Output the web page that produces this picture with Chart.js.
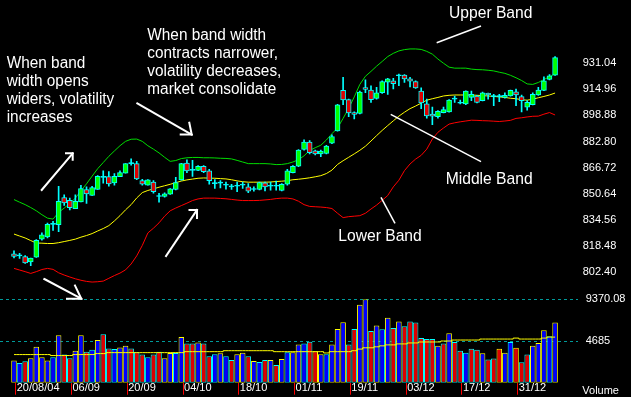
<!DOCTYPE html>
<html><head><meta charset="utf-8">
<script src="https://cdn.jsdelivr.net/npm/chart.js@4/dist/chart.umd.min.js"></script>
<style>html,body{margin:0;padding:0;background:#000;overflow:hidden}#c{display:block;background:#000}</style>
</head><body>
<canvas id="c" width="631" height="397"></canvas>
<script>
// ---------- data ----------
const openP = [813.7,812.5,812.1,808.8,811.7,822.7,824.1,831.9,831.7,848.4,
 846.6,841.5,845.6,853.3,849.6,853.3,860.8,861.2,857.4,861.2,
 863.3,869.2,869.2,858.8,855.9,857.8,849.0,849.0,850.4,853.3,
 859.2,869.6,865.1,865.1,867.6,864.7,856.9,857.2,855.9,854.9,
 855.3,855.9,854.9,853.3,853.3,857.4,855.3,855.3,852.7,856.5,
 863.7,867.6,877.9,882.4,877.1,875.1,875.5,881.8,889.3,914.2,
 908.5,900.6,900.0,915.9,914.4,909.3,912.8,919.3,920.1,923.2,
 923.6,921.3,919.7,913.8,905.9,899.7,898.1,900.6,901.0,908.9,
 906.3,905.9,909.9,910.8,907.9,912.4,910.4,910.4,909.9,910.8,
 913.4,910.4,903.9,905.5,911.4,914.2,921.0,923.6];
const highP = [815.6,814.1,812.7,811.1,822.5,826.6,832.7,833.7,855.3,850.0,
 848.0,850.0,855.9,854.9,855.3,861.8,864.7,864.3,863.1,864.7,
 869.2,872.1,870.6,859.6,859.4,858.8,851.0,851.2,853.9,860.8,
 869.4,871.6,871.2,868.0,868.0,865.7,859.4,858.8,857.8,856.5,
 857.8,857.8,856.9,854.9,857.8,857.8,857.8,858.4,856.9,865.7,
 868.0,877.9,883.8,883.4,877.5,877.5,880.4,886.9,905.6,922.2,
 908.9,901.0,913.8,920.7,917.1,916.1,920.1,921.6,921.6,924.2,
 924.0,922.2,920.1,915.8,908.9,904.0,901.8,904.0,908.5,910.8,
 908.3,914.0,913.8,911.2,913.2,912.6,911.8,911.8,912.8,914.4,
 915.1,911.4,907.9,912.8,916.1,922.6,924.0,935.0];
const lowP = [811.3,811.0,807.8,806.4,811.5,822.1,823.5,828.2,827.4,843.5,
 840.8,841.5,845.6,844.7,849.6,853.3,857.2,855.3,855.9,861.2,
 863.3,868.3,859.4,855.9,855.9,851.0,845.5,848.6,850.2,853.0,
 859.0,863.7,861.4,864.9,863.7,856.5,853.9,854.3,853.5,853.3,
 851.9,853.9,851.4,852.3,853.1,852.5,852.9,852.9,852.5,855.9,
 863.5,867.4,877.5,875.1,874.5,873.5,875.1,881.4,889.1,905.4,
 898.1,896.7,899.8,912.8,906.9,908.9,912.4,911.8,915.2,917.1,
 919.1,916.3,915.5,903.0,897.1,893.2,897.1,900.4,900.8,906.9,
 905.9,905.5,907.9,906.5,907.7,908.9,904.9,907.3,909.5,910.6,
 904.9,901.0,902.0,905.3,911.2,914.0,920.7,923.4];
const closeP = [812.1,812.5,808.2,811.1,822.1,825.4,831.9,831.9,846.1,845.1,
 842.1,846.1,853.9,850.6,854.5,861.4,860.8,856.8,861.4,863.7,
 869.2,869.2,859.8,856.5,859.2,851.9,849.0,850.6,853.7,857.6,
 869.2,864.7,865.1,867.6,864.3,858.8,856.9,857.2,855.9,854.9,
 855.3,855.9,852.3,853.3,857.6,854.9,855.3,855.3,856.5,864.7,
 867.6,877.5,882.4,875.9,875.1,876.9,880.0,885.9,905.4,908.3,
 900.4,899.5,913.2,914.8,908.5,912.8,919.7,921.3,918.3,923.2,
 921.3,919.9,915.8,906.5,898.5,898.3,901.4,902.4,908.3,908.9,
 906.3,913.8,911.8,906.9,912.8,911.6,910.4,910.4,911.2,914.2,
 911.4,907.9,906.9,911.8,914.4,920.1,923.2,934.4];
const upperBand = [847.1,845.5,844.0,842.2,840.2,837.8,835.7,835.1,839.2,841.9,
 844.7,848.0,852.5,856.8,861.5,866.1,869.9,873.7,877.0,880.2,
 882.9,884.2,884.3,882.9,880.2,878.1,875.8,873.1,870.6,871.1,
 872.3,872.8,873.0,873.0,872.8,872.8,872.7,872.5,872.4,872.1,
 871.2,870.2,869.2,869.2,869.2,869.2,869.0,868.6,868.7,869.2,
 870.2,871.6,874.0,877.3,879.0,880.5,883.7,887.6,891.1,897.0,
 903.2,910.2,917.9,922.9,925.9,929.1,932.0,935.0,937.0,938.5,
 939.3,939.7,939.7,939.4,938.2,936.5,933.5,930.9,928.5,927.9,
 927.9,927.9,927.3,927.0,926.9,926.6,926.2,925.4,924.7,923.5,
 922.0,920.3,918.2,917.9,919.1,920.9,922.6,924.4];
const middleBand = [825.9,824.7,823.5,821.9,820.4,820.3,820.1,820.1,820.6,821.3,
 822.0,822.8,824.0,825.0,826.2,827.8,829.3,831.1,834.0,837.2,
 840.8,844.0,848.1,851.4,852.7,853.7,854.7,855.6,856.5,857.5,
 858.5,859.2,859.7,860.2,860.4,860.3,860.2,860.0,859.8,859.3,
 858.6,858.1,857.8,857.8,857.8,857.8,857.9,858.2,858.4,858.7,
 859.3,859.6,860.0,860.5,861.1,861.8,863.1,865.2,868.7,871.0,
 873.1,875.2,877.4,879.9,883.1,886.4,889.6,892.6,895.5,898.4,
 900.8,903.0,904.6,906.4,908.2,909.1,909.9,910.8,911.2,911.4,
 911.4,911.4,911.4,911.2,911.0,910.8,910.5,910.2,909.9,909.4,
 909.1,908.5,908.2,908.8,909.7,910.5,911.4,912.6];
const lowerBand = [804.8,803.8,802.8,801.7,802.8,804.1,804.8,804.2,802.1,800.7,
 799.5,798.4,797.5,796.8,796.4,796.6,797.0,798.7,800.4,801.9,
 803.9,807.5,812.5,818.9,826.6,829.5,832.8,836.9,840.2,841.9,
 843.4,844.9,846.5,847.5,848.0,848.0,848.0,847.8,847.6,847.2,
 846.8,846.5,846.5,846.5,846.6,846.9,847.2,847.7,848.0,848.0,
 847.5,846.1,844.0,842.9,842.7,842.5,842.2,841.6,838.7,836.0,
 836.6,836.9,837.2,838.7,841.3,843.7,846.6,849.6,854.9,859.0,
 864.9,869.0,872.0,874.3,878.1,884.3,888.5,891.1,893.5,894.3,
 894.9,895.4,895.9,895.8,895.6,895.5,895.3,895.1,895.4,895.8,
 897.0,897.4,897.9,898.3,898.4,899.6,900.6,899.1];
const volume = [2506,2216,2397,2760,4032,2869,2506,2869,5339,3160,
 2760,3596,5339,3487,3705,4794,5448,3850,3777,3959,
 4140,3850,3414,3160,2869,3160,3487,2760,3341,3341,
 5121,4395,4395,4504,4395,2978,3196,3305,2978,2542,
 3196,3378,2978,2433,2324,2542,2542,1998,2651,3414,
 3414,4286,4395,4613,3523,3196,3196,4286,6029,6792,
 4286,6029,8753,9370,5811,6429,5993,7300,6138,6864,
 6356,6864,6756,5012,4903,4903,4140,4395,5557,4576,
 3596,3378,3814,3705,3305,2615,2724,3814,3378,4576,
 3923,2288,3160,4140,4467,5884,5230,6756];
const volumeMA = [3160,3160,3160,3160,3160,3160,3160,3051,3051,3051,
 3051,3160,3160,3160,3160,3269,3269,3378,3378,3378,
 3378,3378,3378,3378,3378,3378,3378,3378,3378,3378,
 3378,3487,3487,3487,3487,3487,3487,3487,3596,3596,
 3596,3596,3596,3596,3596,3596,3596,3487,3487,3487,
 3487,3487,3487,3487,3487,3487,3341,3487,3487,3487,
 3487,3596,3777,3923,3923,4032,4140,4249,4249,4358,
 4358,4467,4467,4576,4576,4576,4576,4685,4685,4794,
 4794,4794,4794,4794,4903,4903,4903,4903,4903,4903,
 5012,4903,4903,4903,4903,5012,5121,5121];
// 1 = up-day volume bar, 0 = down-day
const volumeUp = [1,1,0,1,1,1,1,1,1,0, 0,1,1,0,1,1,0,0,1,1, 1,0,0,0,1,0,0,1,1,1,
 1,0,0,1,0,0,1,1,1,0, 1,1,0,1,1,0,1,0,1,1, 1,1,1,0,0,1,1,1,1,1,
 0,0,1,1,0,1,1,1,0,1, 0,0,0,0,0,0,1,0,1,0, 0,1,0,0,1,0,0,0,1,1, 0,0,0,1,1,1,1,1];
// 1 = rising (yellow outline), 0 = falling (cyan outline)
const volumeRise = [1,0,0,1,1,1,1,0,1,0, 0,1,1,0,0,1,0,0,0,1, 1,0,0,0,0,0,0,1,1,0,
 1,0,0,1,0,0,0,1,0,0, 1,1,0,1,0,0,1,0,1,0, 1,1,0,0,1,1,0,1,1,1,
 0,0,1,1,0,1,0,1,0,1, 0,0,0,0,0,0,1,0,1,0, 0,0,0,0,1,0,0,1,1,0, 1,0,0,1,1,1,0,1];
const priceTicks = [802.40,818.48,834.56,850.64,866.72,882.80,898.88,914.96,931.04];
const volumeTicks = [4685,9370.08];
const volumeTickLabels = ['4685','9370.08'];
const xTickIndex = [0,10,20,30,40,50,60,70,80,90];
const xTickLabels = ['20/08/04','06/09','20/09','04/10','18/10','01/11','19/11','03/12','17/12','31/12'];
const noteContract = ['When band width','contracts narrower,','volatility decreases,','market consolidate'];
const noteWiden = ['When band','width opens','widers, volatility','increases'];

// ---------- style ----------
const GREEN='#00ff00', RED='#dd0000', CYAN='#00ffff', YELLOW='#ffff00', BLUE='#0000ff';
const FONT='"Liberation Sans", Arial, Helvetica, sans-serif';
Chart.defaults.font.family = FONT;
Chart.defaults.color = '#ffffff';
const X_MIN = -2.51, X_MAX = 101.11, PLOT_W = 578;
const SLOT = PLOT_W / (X_MAX - X_MIN);

const pts = arr => arr.map((v,i)=>({x:i,y:v}));
const bodyColors = closeP.map((c,i)=> c>openP[i] ? GREEN : (c<openP[i] ? RED : CYAN));

const annotate = {
  id:'annotate',
  afterDraw(chart){
    const ctx = chart.ctx;
    ctx.save();
    ctx.fillStyle = '#fff'; ctx.strokeStyle = '#fff';
    ctx.textBaseline = 'alphabetic'; ctx.textAlign = 'left';
    const txt = (s,x,y,size,sx)=>{ ctx.save(); ctx.translate(x,y); ctx.scale(sx,1); ctx.font = size+'px '+FONT; ctx.fillText(s,0,0); ctx.restore(); };
    noteContract.forEach((s,k)=>txt(s,147.3,40+18.1*k,16,0.96));
    noteWiden.forEach((s,k)=>txt(s,6.7,68.3+17.85*k,16,0.96));
    txt('Upper Band',449,17.8,17,0.92);
    txt('Middle Band',445.7,184.3,17,0.92);
    txt('Lower Band',338.3,241,17,0.92);
    ctx.font = '11px '+FONT;
    ctx.fillText('Volume',582.3,394.2);
    const poly = (p,w)=>{ ctx.lineWidth=w; ctx.beginPath(); ctx.moveTo(p[0][0],p[0][1]); for(let k=1;k<p.length;k++) ctx.lineTo(p[k][0],p[k][1]); ctx.stroke(); };
    ctx.lineCap='square';
    poly([[41.7,190],[72.7,153.3]],2); poly([[66,153.3],[72.7,153.3],[72.7,159.8]],2);
    poly([[137.3,103.3],[191.7,134.6]],2); poly([[180.7,134.6],[191.7,134.6],[189.3,122.7]],2);
    poly([[166,256],[197,210]],2); poly([[189.5,210],[197,210],[197,218]],2);
    poly([[44.3,279],[81.3,298.7]],2); poly([[67,298.7],[81.3,298.7],[75,285.5]],2);
    ctx.lineCap='butt';
    poly([[436.7,42.7],[481,26]],1.5);
    poly([[390.7,114.3],[481,161.7]],1.5);
    poly([[381,197.3],[395,223.3]],1.5);
    ctx.restore();
  }
};

new Chart(document.getElementById('c'), {
  type:'bar',
  data:{ datasets:[
    {type:'line', label:'Upper Band', data:pts(upperBand), yAxisID:'y', borderColor:'#00dd00', borderWidth:1, pointRadius:0, tension:0, order:3},
    {type:'line', label:'Middle Band', data:pts(middleBand), yAxisID:'y', borderColor:YELLOW, borderWidth:1, pointRadius:0, tension:0, order:3},
    {type:'line', label:'Lower Band', data:pts(lowerBand), yAxisID:'y', borderColor:'#ff0000', borderWidth:1, pointRadius:0, tension:0, order:3},
    {type:'bar', label:'Range', data:highP.map((h,i)=>({x:i,y:[lowP[i],h]})), yAxisID:'y', backgroundColor:CYAN, borderWidth:0, barThickness:1, grouped:false, order:2},
    {type:'bar', label:'Body', data:openP.map((o,i)=>({x:i,y:[o,closeP[i]]})), yAxisID:'y', backgroundColor:bodyColors, borderColor:CYAN, borderWidth:1, borderSkipped:false, barThickness:5, minBarLength:1, grouped:false, order:1},
    {type:'bar', label:'Volume', data:pts(volume), yAxisID:'yv', backgroundColor:volumeUp.map(u=>u?BLUE:RED), borderColor:volumeRise.map(r=>r?YELLOW:CYAN), borderWidth:1, borderSkipped:false, barThickness:SLOT, inflateAmount:0, grouped:false, order:4},
    {type:'line', label:'Volume MA', data:pts(volumeMA), yAxisID:'yv', borderColor:YELLOW, borderWidth:1, pointRadius:0, stepped:'middle', order:1}
  ]},
  options:{
    responsive:false, animation:false, devicePixelRatio:1,
    layout:{padding:0},
    plugins:{legend:{display:false}, tooltip:{enabled:false}},
    scales:{
      x:{type:'linear', min:X_MIN, max:X_MAX, offset:false, bounds:'data',
        grid:{display:true, drawOnChartArea:false, drawTicks:true, tickLength:12, color:'#ff0000', offset:false, lineWidth:1},
        border:{display:false},
        afterBuildTicks:s=>{ s.ticks = xTickIndex.map(v=>({value:v+0.3})); },
        afterFit:s=>{ s.height = 12.7; },
        ticks:{color:'#fff', font:{size:11}, padding:-13.2, align:'start', labelOffset:1, autoSkip:false, maxRotation:0, minRotation:0,
          callback:(v,i)=>xTickLabels[i]}
      },
      y:{type:'linear', position:'right', stack:'main', stackWeight:297.3, min:785.8, max:961.0, offset:false,
        grid:{display:false, drawTicks:false}, border:{display:false},
        afterBuildTicks:s=>{ s.ticks = priceTicks.map(v=>({value:v})); },
        afterFit:s=>{ s.width = 53; },
        ticks:{color:'#fff', font:{size:11}, padding:4.7, autoSkip:false, callback:v=>Number(v).toFixed(2)}
      },
      yv:{type:'linear', position:'right', stack:'main', stackWeight:87, min:0, max:9370.08, offset:false,
        grid:{display:true, drawTicks:false, color:'#009a9a', lineWidth:1}, border:{display:false, dash:[3,3]},
        afterBuildTicks:s=>{ s.ticks = volumeTicks.map(v=>({value:v})); },
        afterFit:s=>{ s.width = 53; },
        ticks:{color:'#fff', font:{size:11}, padding:7.7, autoSkip:false, callback:(v,i)=>volumeTickLabels[i]}
      }
    }
  },
  plugins:[annotate]
});
</script>
</body></html>
